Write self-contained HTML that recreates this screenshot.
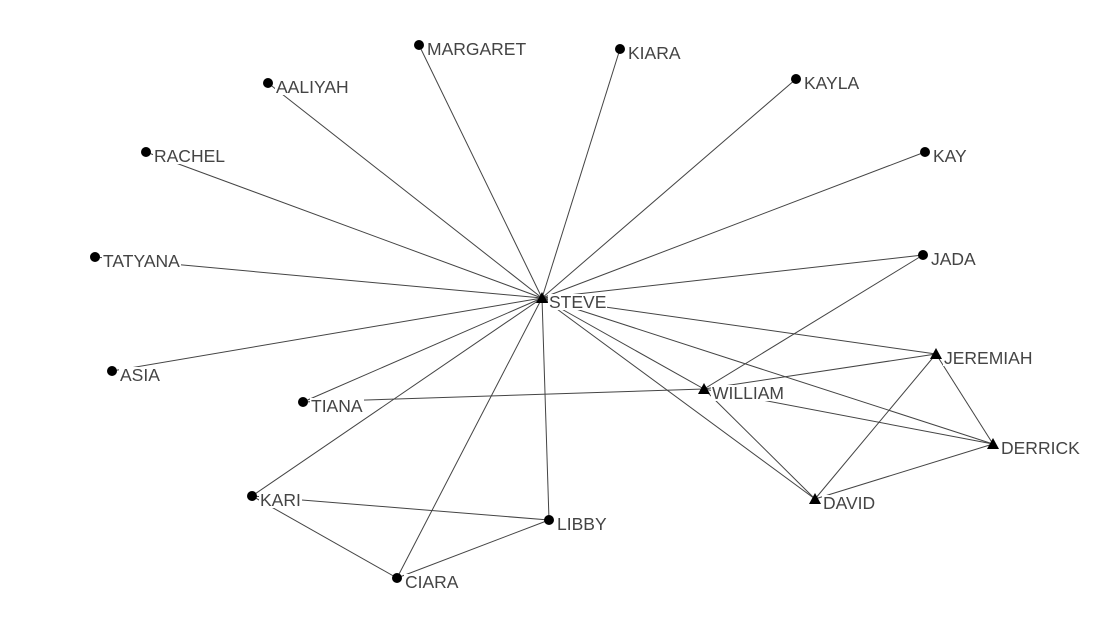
<!DOCTYPE html>
<html><head><meta charset="utf-8"><style>
body{margin:0;background:#fff;}
#w{position:relative;width:1100px;height:620px;overflow:hidden}
svg{display:block;position:absolute;left:0;top:0}
.l{position:absolute;font-family:"Liberation Sans",sans-serif;font-size:17.5px;color:#444;background:#fff;line-height:16px;height:16px;padding:0 1px;white-space:nowrap}
</style></head><body><div id="w">
<svg width="1100" height="620" viewBox="0 0 1100 620">
<g stroke="#444" stroke-width="1">
<line x1="542" y1="298" x2="419" y2="45"/>
<line x1="542" y1="298" x2="620" y2="49"/>
<line x1="542" y1="298" x2="268" y2="83"/>
<line x1="542" y1="298" x2="796" y2="79"/>
<line x1="542" y1="298" x2="146" y2="152"/>
<line x1="542" y1="298" x2="925" y2="152"/>
<line x1="542" y1="298" x2="95" y2="257"/>
<line x1="542" y1="298" x2="923" y2="255"/>
<line x1="542" y1="298" x2="112" y2="371"/>
<line x1="542" y1="298" x2="936" y2="354"/>
<line x1="542" y1="298" x2="704" y2="389"/>
<line x1="542" y1="298" x2="303" y2="402"/>
<line x1="542" y1="298" x2="252" y2="496"/>
<line x1="542" y1="298" x2="549" y2="520"/>
<line x1="542" y1="298" x2="397" y2="578"/>
<line x1="542" y1="298" x2="993" y2="444"/>
<line x1="542" y1="298" x2="815" y2="499"/>
<line x1="303" y1="402" x2="704" y2="389"/>
<line x1="704" y1="389" x2="923" y2="255"/>
<line x1="704" y1="389" x2="936" y2="354"/>
<line x1="704" y1="389" x2="993" y2="444"/>
<line x1="704" y1="389" x2="815" y2="499"/>
<line x1="936" y1="354" x2="815" y2="499"/>
<line x1="936" y1="354" x2="993" y2="444"/>
<line x1="993" y1="444" x2="815" y2="499"/>
<line x1="252" y1="496" x2="549" y2="520"/>
<line x1="252" y1="496" x2="397" y2="578"/>
<line x1="397" y1="578" x2="549" y2="520"/>
</g>
</svg>
<div class="l" style="left:548px;top:294px">STEVE</div>
<div class="l" style="left:426px;top:41px">MARGARET</div>
<div class="l" style="left:627px;top:45px">KIARA</div>
<div class="l" style="left:275px;top:79px">AALIYAH</div>
<div class="l" style="left:803px;top:75px">KAYLA</div>
<div class="l" style="left:153px;top:148px">RACHEL</div>
<div class="l" style="left:932px;top:148px">KAY</div>
<div class="l" style="left:102px;top:253px">TATYANA</div>
<div class="l" style="left:930px;top:251px">JADA</div>
<div class="l" style="left:119px;top:367px">ASIA</div>
<div class="l" style="left:943px;top:350px">JEREMIAH</div>
<div class="l" style="left:711px;top:385px">WILLIAM</div>
<div class="l" style="left:310px;top:398px">TIANA</div>
<div class="l" style="left:1000px;top:440px">DERRICK</div>
<div class="l" style="left:822px;top:495px">DAVID</div>
<div class="l" style="left:259px;top:492px">KARI</div>
<div class="l" style="left:556px;top:516px">LIBBY</div>
<div class="l" style="left:404px;top:574px">CIARA</div>
<svg width="1100" height="620" viewBox="0 0 1100 620">
<g fill="#000">
<circle cx="419" cy="45" r="5"/><circle cx="620" cy="49" r="5"/>
<circle cx="268" cy="83" r="5"/><circle cx="796" cy="79" r="5"/>
<circle cx="146" cy="152" r="5"/><circle cx="925" cy="152" r="5"/>
<circle cx="95" cy="257" r="5"/><circle cx="923" cy="255" r="5"/>
<circle cx="112" cy="371" r="5"/><circle cx="303" cy="402" r="5"/>
<circle cx="252" cy="496" r="5"/><circle cx="549" cy="520" r="5"/>
<circle cx="397" cy="578" r="5"/>
<polygon points="542,292 548,303 536,303"/>
<polygon points="936,348 942,359 930,359"/>
<polygon points="704,383 710,394 698,394"/>
<polygon points="993,438 999,449 987,449"/>
<polygon points="815,493 821,504 809,504"/>
</g>
</svg>
</div>
</body></html>
